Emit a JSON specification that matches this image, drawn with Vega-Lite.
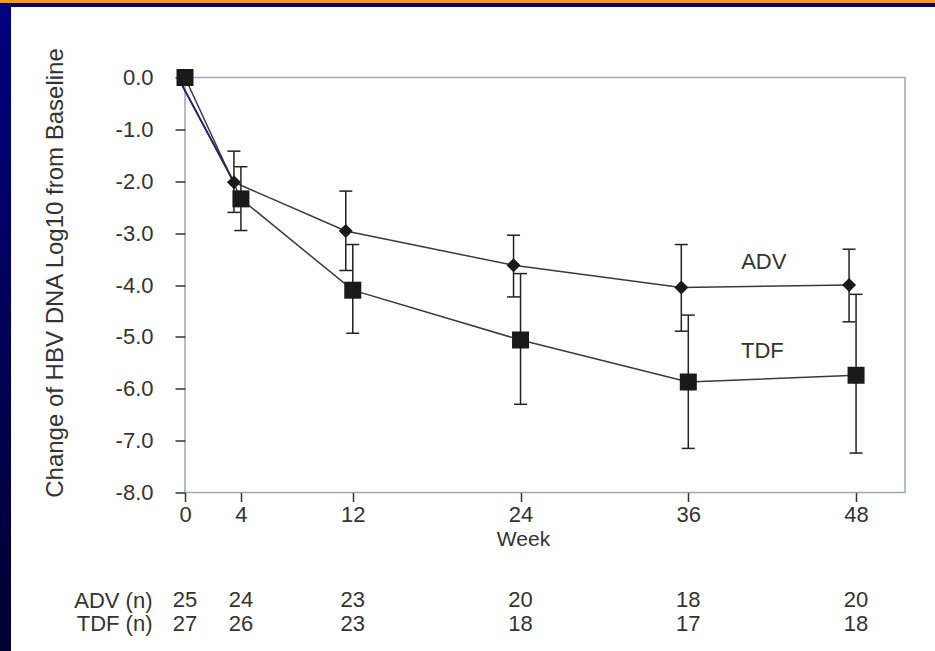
{
  "$schema": "https://vega.github.io/schema/vega-lite/v6.json",
  "padding": 0,
  "background": "white",
  "config": {"font": "Liberation Sans", "view": {"stroke": null}},
  "datasets": {
    "series": [
      {"group": "ADV", "week": 0, "value": 0, "lo": null, "hi": null},
      {"group": "ADV", "week": 4, "value": -2.02, "lo": -2.6, "hi": -1.42},
      {"group": "ADV", "week": 12, "value": -2.96, "lo": -3.72, "hi": -2.19},
      {"group": "ADV", "week": 24, "value": -3.62, "lo": -4.23, "hi": -3.04},
      {"group": "ADV", "week": 36, "value": -4.05, "lo": -4.89, "hi": -3.22},
      {"group": "ADV", "week": 48, "value": -4.0, "lo": -4.71, "hi": -3.31},
      {"group": "TDF", "week": 0, "value": 0, "lo": null, "hi": null},
      {"group": "TDF", "week": 4, "value": -2.34, "lo": -2.95, "hi": -1.72},
      {"group": "TDF", "week": 12, "value": -4.1, "lo": -4.93, "hi": -3.22},
      {"group": "TDF", "week": 24, "value": -5.06, "lo": -6.3, "hi": -3.78},
      {"group": "TDF", "week": 36, "value": -5.87, "lo": -7.15, "hi": -4.58},
      {"group": "TDF", "week": 48, "value": -5.74, "lo": -7.24, "hi": -4.18}
    ],
    "labels": [
      {"label": "ADV", "week": 41.4, "value": -3.55},
      {"label": "TDF", "week": 41.3, "value": -5.28}
    ],
    "counts": [
      {"row": "ADV (n)", "week": 0, "n": 25},
      {"row": "ADV (n)", "week": 4, "n": 24},
      {"row": "ADV (n)", "week": 12, "n": 23},
      {"row": "ADV (n)", "week": 24, "n": 20},
      {"row": "ADV (n)", "week": 36, "n": 18},
      {"row": "ADV (n)", "week": 48, "n": 20},
      {"row": "TDF (n)", "week": 0, "n": 27},
      {"row": "TDF (n)", "week": 4, "n": 26},
      {"row": "TDF (n)", "week": 12, "n": 23},
      {"row": "TDF (n)", "week": 24, "n": 18},
      {"row": "TDF (n)", "week": 36, "n": 17},
      {"row": "TDF (n)", "week": 48, "n": 18}
    ]
  },
  "spacing": 0,
  "vconcat": [
    {
      "width": 935,
      "height": 7,
      "data": {"values": [{}]},
      "mark": {
        "type": "rect",
        "fill": {"gradient": "linear", "x1": 0, "y1": 0, "x2": 0, "y2": 1,
          "stops": [{"offset": 0, "color": "#FF9900"}, {"offset": 0.45, "color": "#FF9900"}, {"offset": 0.46, "color": "#000080"}, {"offset": 1, "color": "#000080"}]}
      },
      "encoding": {}
    },
    {
      "spacing": 31,
      "hconcat": [
        {
          "width": 11,
          "height": 644,
          "data": {"values": [{}]},
          "mark": {
            "type": "rect",
            "fill": {"gradient": "linear", "x1": 0, "y1": 0, "x2": 0, "y2": 1,
              "stops": [{"offset": 0, "color": "#000080"}, {"offset": 1, "color": "#000030"}]}
          },
          "encoding": {}
        },
        {
          "spacing": 37.5,
          "vconcat": [
            {"width": 1, "height": 1, "data": {"values": []}, "mark": "point", "encoding": {}},
            {
              "spacing": 38,
              "vconcat": [
                {
                  "width": 720,
                  "height": 415,
                  "view": {"stroke": "#a3a8ad", "strokeWidth": 1.5},
                  "data": {"name": "series"},
                  "encoding": {
                    "x": {
                      "field": "week", "type": "quantitative",
                      "scale": {"domain": [0, 51.5], "nice": false, "zero": false},
                      "axis": {
                        "values": [0, 4, 12, 24, 36, 48], "title": "Week", "domain": false, "grid": false,
                        "labelFlush": false,
                        "tickSize": 9, "tickColor": "#333", "tickWidth": 1.5,
                        "labelFontSize": 22, "labelColor": "#333", "labelPadding": 3,
                        "titleFontSize": 21, "titleFontWeight": "normal", "titleColor": "#333",
                        "titlePadding": 3, "titleX": 338
                      }
                    }
                  },
                  "layer": [
                    {
                      "transform": [{"filter": "datum.group === 'ADV'"}],
                      "mark": {"type": "line", "color": "#3a3a3a", "strokeWidth": 1.5, "xOffset": -7},
                      "encoding": {
                        "y": {
                          "field": "value", "type": "quantitative", "title": "Change of HBV DNA Log10 from Baseline",
                          "scale": {"domain": [-8, 0], "nice": false},
                          "axis": {
                            "values": [-8, -7, -6, -5, -4, -3, -2, -1, 0], "format": ".1f",
                            "labelExpr": "replace(datum.label, '\u2212', '-')",
                            "labelFlush": false,
                            "domain": false, "grid": false, "tickSize": 10, "tickColor": "#333", "tickWidth": 1.5,
                            "labelFontSize": 22, "labelColor": "#333", "labelPadding": 22,
                            "titleFontSize": 24, "titleFontWeight": "normal", "titleColor": "#333",
                            "titlePadding": 48, "titleY": 195
                          }
                        }
                      }
                    },
                    {
                      "transform": [{"filter": "datum.group === 'TDF'"}],
                      "mark": {"type": "line", "color": "#3a3a3a", "strokeWidth": 1.5},
                      "encoding": {"y": {"field": "value", "type": "quantitative", "title": "Change of HBV DNA Log10 from Baseline"}}
                    },
                    {
                      "transform": [{"filter": "datum.group === 'ADV' && datum.week <= 4"}],
                      "mark": {"type": "line", "color": "#26266a", "strokeWidth": 1.8, "xOffset": -7},
                      "encoding": {"y": {"field": "value", "type": "quantitative", "title": "Change of HBV DNA Log10 from Baseline"}}
                    },
                    {
                      "transform": [{"filter": "datum.group === 'ADV' && datum.week > 0"}],
                      "mark": {"type": "rule", "color": "#222", "strokeWidth": 1.5, "xOffset": -7},
                      "encoding": {"y": {"field": "lo", "type": "quantitative", "title": "Change of HBV DNA Log10 from Baseline"}, "y2": {"field": "hi"}}
                    },
                    {
                      "transform": [{"filter": "datum.group === 'TDF' && datum.week > 0"}],
                      "mark": {"type": "rule", "color": "#222", "strokeWidth": 1.5},
                      "encoding": {"y": {"field": "lo", "type": "quantitative", "title": "Change of HBV DNA Log10 from Baseline"}, "y2": {"field": "hi"}}
                    },
                    {
                      "transform": [{"filter": "datum.group === 'ADV' && datum.week > 0"}],
                      "mark": {"type": "point", "shape": "M-1,0L1,0", "filled": false, "size": 169, "stroke": "#222", "strokeWidth": 1.5, "opacity": 1, "xOffset": -7},
                      "encoding": {"y": {"field": "lo", "type": "quantitative", "title": "Change of HBV DNA Log10 from Baseline"}}
                    },
                    {
                      "transform": [{"filter": "datum.group === 'ADV' && datum.week > 0"}],
                      "mark": {"type": "point", "shape": "M-1,0L1,0", "filled": false, "size": 169, "stroke": "#222", "strokeWidth": 1.5, "opacity": 1, "xOffset": -7},
                      "encoding": {"y": {"field": "hi", "type": "quantitative", "title": "Change of HBV DNA Log10 from Baseline"}}
                    },
                    {
                      "transform": [{"filter": "datum.group === 'TDF' && datum.week > 0"}],
                      "mark": {"type": "point", "shape": "M-1,0L1,0", "filled": false, "size": 169, "stroke": "#222", "strokeWidth": 1.5, "opacity": 1},
                      "encoding": {"y": {"field": "lo", "type": "quantitative", "title": "Change of HBV DNA Log10 from Baseline"}}
                    },
                    {
                      "transform": [{"filter": "datum.group === 'TDF' && datum.week > 0"}],
                      "mark": {"type": "point", "shape": "M-1,0L1,0", "filled": false, "size": 169, "stroke": "#222", "strokeWidth": 1.5, "opacity": 1},
                      "encoding": {"y": {"field": "hi", "type": "quantitative", "title": "Change of HBV DNA Log10 from Baseline"}}
                    },
                    {
                      "transform": [{"filter": "datum.group === 'ADV' && datum.week > 0"}],
                      "mark": {"type": "point", "shape": "diamond", "filled": true, "size": 196, "color": "#1a1a1a", "opacity": 1, "xOffset": -7},
                      "encoding": {"y": {"field": "value", "type": "quantitative", "title": "Change of HBV DNA Log10 from Baseline"}}
                    },
                    {
                      "transform": [{"filter": "datum.group === 'TDF'"}],
                      "mark": {"type": "point", "shape": "square", "filled": true, "size": 289, "color": "#1a1a1a", "opacity": 1},
                      "encoding": {"y": {"field": "value", "type": "quantitative", "title": "Change of HBV DNA Log10 from Baseline"}}
                    },
                    {
                      "data": {"name": "labels"},
                      "mark": {"type": "text", "fontSize": 22, "color": "#333"},
                      "encoding": {
                        "y": {"field": "value", "type": "quantitative", "title": "Change of HBV DNA Log10 from Baseline"},
                        "text": {"field": "label", "type": "nominal"}
                      }
                    }
                  ]
                },
                {
                  "width": 720,
                  "height": 47,
                  "data": {"name": "counts"},
                  "mark": {"type": "text", "fontSize": 22, "color": "#333"},
                  "encoding": {
                    "x": {"field": "week", "type": "quantitative", "scale": {"domain": [0, 51.5], "nice": false, "zero": false}, "axis": null},
                    "y": {
                      "field": "row", "type": "nominal", "sort": ["ADV (n)", "TDF (n)"],
                      "axis": {"title": null, "domain": false, "ticks": false, "labelFontSize": 22, "labelColor": "#333", "labelPadding": 33}
                    },
                    "text": {"field": "n", "type": "quantitative"}
                  }
                }
              ]
            }
          ]
        }
      ]
    }
  ]
}
